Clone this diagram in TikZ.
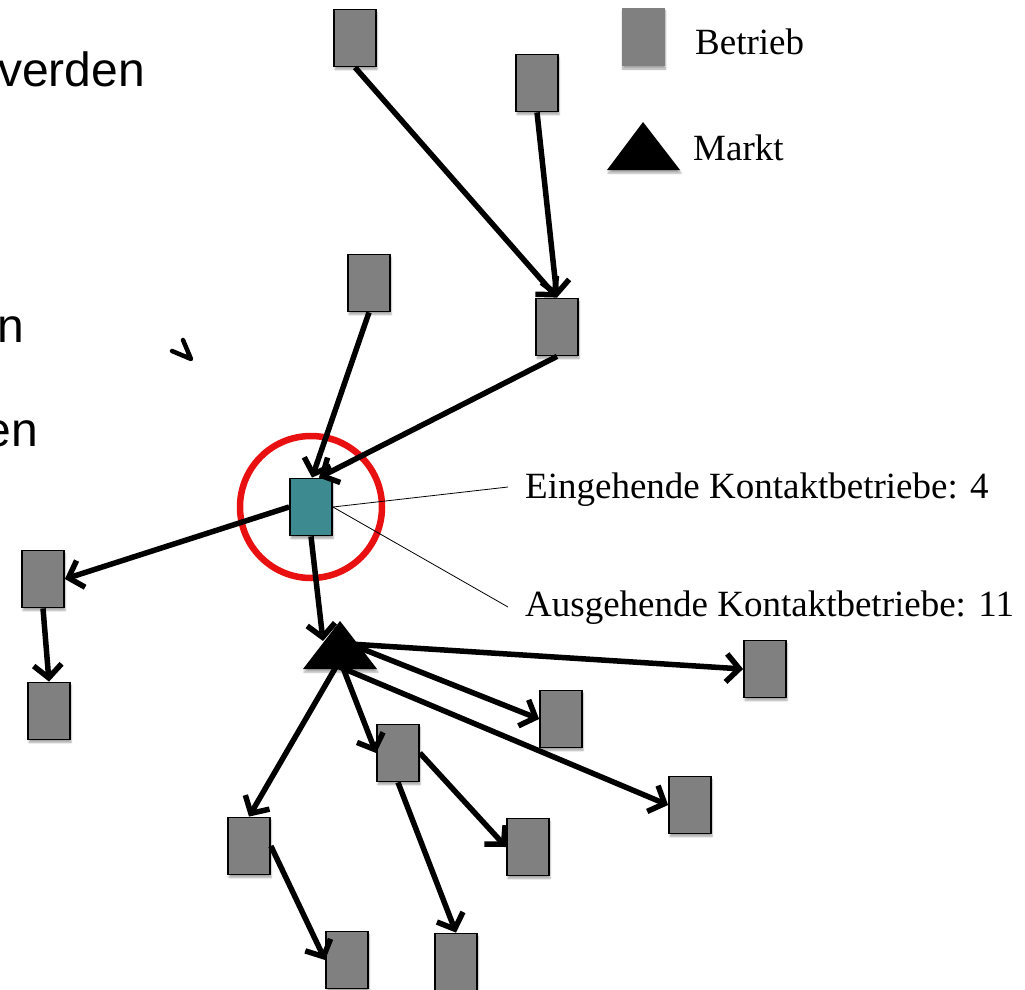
\documentclass[tikz,border=0pt]{standalone}
\usepackage{fontspec}
\setmainfont{Liberation Serif}
\newfontfamily\slidesans{Liberation Sans}
\usetikzlibrary{arrows.meta,calc,shadows.blur}

\definecolor{boxgray}{RGB}{128,128,128}
\definecolor{hubteal}{RGB}{62,138,145}
\definecolor{ringred}{RGB}{232,16,16}

\tikzset{
  betrieb/.style={rectangle, minimum width=42pt, minimum height=57pt, inner sep=0pt,
    draw=black, line width=1.8pt, fill=boxgray,
    blur shadow={shadow xshift=1pt, shadow yshift=-3pt, shadow blur steps=5, shadow opacity=35}},
  focus/.style={betrieb, fill=hubteal},
  link/.style={line width=5.5pt, -{Straight Barb[length=13pt,width=28pt]}},
  leader/.style={line width=0.8pt},
  lbl/.style={anchor=west, inner sep=0pt, font=\fontsize{37}{44}\selectfont},
  slidetxt/.style={inner sep=0pt, font=\slidesans\fontsize{48}{56}\selectfont}
}

\begin{document}
\begin{tikzpicture}[x=1pt, y=-1pt]
\useasboundingbox (0,0) rectangle (1025,990);

% text of the slide underneath
\node[slidetxt, anchor=base west] (t1) at (-2,86) {verden};
\node[slidetxt, anchor=base east] (t2) at (24,342) {n};
\node[slidetxt, anchor=base east] (t3) at (38,446) {en};
\draw[line width=4.5pt, line cap=round, line join=round]
  (183,340) -- (191,359) -- (172,351);

% legend
\node[rectangle, minimum width=43pt, minimum height=58pt, inner sep=0pt, fill=boxgray,
  blur shadow={shadow xshift=1pt, shadow yshift=-3pt, shadow blur steps=5, shadow opacity=35}]
  (legbox) at (643,37) {};
\node[lbl] (legbetrieb) at (695,42) {Betrieb};
\fill[blur shadow={shadow xshift=1pt, shadow yshift=-3pt, shadow blur steps=5, shadow opacity=35}]
  (643,122) -- (680,170) -- (607,170) -- cycle;
\node[lbl] (legmarkt) at (693,148) {Markt};

% farms
\node[betrieb] (N1) at (355,38) {};
\node[betrieb] (N2) at (537,83) {};
\node[betrieb] (N3) at (369,283) {};
\node[betrieb] (N4) at (557,327) {};
\node[betrieb] (L1) at (43,579) {};
\node[betrieb] (L2) at (49,711) {};
\node[betrieb] (R1) at (765,669) {};
\node[betrieb] (R2) at (561,719) {};
\node[betrieb] (M1) at (398,753) {};
\node[betrieb] (R3) at (690,805) {};
\node[betrieb] (B1) at (249,846) {};
\node[betrieb] (M2) at (528,847) {};
\node[betrieb] (B2) at (347,960) {};
\node[betrieb] (B3) at (456,962) {};

% market (centre of the triangle)
\node[inner sep=0pt, minimum size=0pt] (mkt) at (340,650) {};

% ring around the farm under study
\draw[ringred, line width=6.5pt] (311,507) circle[radius=71];

% farm under study
\node[focus] (T) at (311,507) {};

% incoming contacts
\draw[link] (N1.south) -- (N4.north);
\draw[link] (N2.south) -- (N4.north);
\draw[link] (N3.south) -- ($(T.north)+(1,0)$);
\draw[link] (N4.south) -- ($(T.north)+(8,0)$);

% outgoing contacts
\draw[link] (T.west) -- (L1.east);
\draw[link] (L1.south) -- (L2.north);
\draw[link] (T.south) -- ($(mkt)+(-17,-9)$);
\draw[link] ($(mkt)+(10,-6)$) -- (R1.west);
\draw[link] ($(mkt)+(10,-6)$) -- (R2.west);
\draw[link] ($(mkt)+(-5,15)$) -- (R3.west);
\draw[link] ($(mkt)+(0,10)$) -- (M1.west);
\draw[link] ($(mkt)+(0,10)$) -- (B1.north);
\draw[link] (M1.east) -- (M2.west);
\draw[link] (M1.south) -- (B3.north);
\draw[link] (B1.east) -- (B2.west);

% market triangle on top of its links
\fill[blur shadow={shadow xshift=1pt, shadow yshift=-3pt, shadow blur steps=5, shadow opacity=35}]
  ($(mkt)+(0,-29)$) -- ($(mkt)+(37,19)$) -- ($(mkt)+(-37,19)$) -- cycle;

% annotations
\coordinate (c1) at (508,487);
\coordinate (c2) at (508,607);
\draw[leader] (T.east) -- (c1);
\draw[leader] (T.east) -- (c2);
\node[lbl] (ein) at (525,490) {Eingehende Kontaktbetriebe: 4};
\node[lbl] (aus) at (525,608) {Ausgehende Kontaktbetriebe: 11};
\end{tikzpicture}
\end{document}
